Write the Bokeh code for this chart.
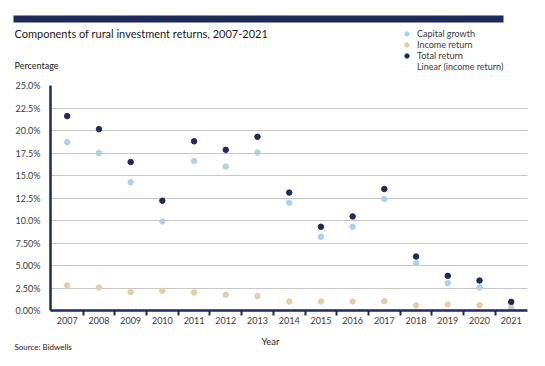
from bokeh.plotting import figure
from bokeh.layouts import column
from bokeh.models import (ColumnDataSource, Range1d, FixedTicker, Label, Legend, LegendItem,
                          BoxAnnotation)
from bokeh.embed import file_html
from bokeh.resources import INLINE

years = list(range(2007, 2022))
capital_growth = [18.7, 17.5, 14.25, 9.9, 16.6, 16.0, 17.55, 11.97, 8.2, 9.3, 12.4, 5.25, 3.04, 2.56, 0.22]
income_return = [2.78, 2.56, 2.04, 2.19, 2.0, 1.74, 1.6, 1.0, 1.0, 1.0, 1.04, 0.56, 0.67, 0.6, 0.7]
total_return = [21.6, 20.15, 16.5, 12.2, 18.8, 17.85, 19.3, 13.1, 9.3, 10.45, 13.5, 6.0, 3.85, 3.33, 0.96]
y_ticks = [0, 2.5, 5, 7.5, 10, 12.5, 15, 17.5, 20, 22.5, 25]
y_tick_labels = ["0.00%", "2.50%", "5.00%", "7.50%", "10.0%", "12.5%", "15.0%", "17.5%", "20.0%", "22.5%", "25.0%"]
series_names = ["Capital growth", "Income return", "Total return", "Linear (income return)"]

NAVY = "#1e2a5a"
BLUE = "#a9d3e8"
BEIGE = "#e3cfa6"
TXT = "#3a3a3a"
DARK = "#1a1a1a"
FONT = "Lato"
W = 545
HH = 78        # header height
FH = 34        # footer height
MH = 366 - HH - FH


def blank(h):
    f = figure(width=W, height=h, output_backend="svg", toolbar_location=None,
               x_range=Range1d(0, W), y_range=Range1d(h, 0),
               x_axis_location=None, y_axis_location=None,
               min_border_left=0, min_border_right=0, min_border_top=0, min_border_bottom=0)
    f.grid.visible = False
    f.outline_line_color = None
    f.frame_align = False
    return f


# ---------------- header (bar, title, legend) ----------------
hdr = blank(HH)
hdr.add_layout(BoxAnnotation(left=13, right=503, top=15, bottom=22, fill_color=NAVY, fill_alpha=1,
                             line_color=None))
hdr.add_layout(Label(x=14, y=33, text="Components of rural investment returns, 2007-2021",
                     text_font=FONT, text_font_size="11px", text_color=DARK, text_baseline="middle"))
hdr.add_layout(Label(x=14, y=65, text="Percentage",
                     text_font=FONT, text_font_size="9px", text_color=DARK, text_baseline="middle"))

nan = float("nan")
e = ColumnDataSource(dict(x=[nan], y=[nan]))
l_cap = hdr.scatter("x", "y", source=e, size=7, color=BLUE)
l_inc = hdr.scatter("x", "y", source=e, size=7, color=BEIGE)
l_tot = hdr.scatter("x", "y", source=e, size=7, color=NAVY)
l_lin = hdr.line("x", "y", source=e, line_color="#ececec", line_dash="1 2", line_width=1)
legend = Legend(items=[LegendItem(label=n, renderers=[r]) for n, r in
                       zip(series_names, [l_cap, l_inc, l_tot, l_lin])],
                location=(401, 6), orientation="vertical",
                label_text_font=FONT, label_text_font_size="9px", label_text_color=TXT,
                glyph_width=11, glyph_height=11, label_height=11, spacing=0, padding=0,
                margin=0, label_standoff=5, border_line_color=None, background_fill_alpha=0)
hdr.add_layout(legend)

# ---------------- main chart ----------------
src = ColumnDataSource(dict(year=years, cap=capital_growth, inc=income_return, tot=total_return))

p = figure(width=W, height=MH, output_backend="svg", toolbar_location=None,
           x_range=Range1d(2006.473, 2021.514), y_range=Range1d(0, 25),
           min_border_left=50, min_border_right=18, min_border_top=85 - HH,
           min_border_bottom=(366 - FH) - 310)
p.outline_line_color = None
p.frame_align = False

p.scatter("year", "cap", source=src, size=5.5, color=BLUE)
p.scatter("year", "inc", source=src, size=5.5, color=BEIGE)
p.scatter("year", "tot", source=src, size=5.5, color=NAVY)

p.xaxis.ticker = FixedTicker(ticks=years, minor_ticks=[y + 0.5 for y in years[:-1]])
p.xaxis.major_tick_line_color = None
p.xaxis.major_tick_out = 0
p.xaxis.major_tick_in = 0
p.xaxis.minor_tick_out = 5
p.xaxis.minor_tick_in = 0
p.xaxis.minor_tick_line_color = NAVY
p.xaxis.minor_tick_line_width = 2
p.xaxis.axis_line_color = NAVY
p.xaxis.axis_line_width = 2.5
p.xaxis.major_label_standoff = 1
p.xaxis.major_label_text_font = FONT
p.xaxis.major_label_text_font_size = "9px"
p.xaxis.major_label_text_color = TXT

p.yaxis.ticker = FixedTicker(ticks=y_ticks)
p.yaxis.major_label_overrides = {t: l for t, l in zip(y_ticks, y_tick_labels)}
p.yaxis.major_tick_line_color = None
p.yaxis.minor_tick_line_color = None
p.yaxis.major_tick_out = 0
p.yaxis.major_tick_in = 0
p.yaxis.major_label_standoff = 10
p.yaxis.axis_line_color = NAVY
p.yaxis.axis_line_width = 2.5
p.yaxis.major_label_text_font = FONT
p.yaxis.major_label_text_font_size = "9px"
p.yaxis.major_label_text_color = TXT

p.xgrid.grid_line_color = None
p.ygrid.grid_line_color = "#8c8c8c"
p.ygrid.grid_line_dash = "1 1"
p.ygrid.grid_line_width = 1

# ---------------- footer (axis title, source) ----------------
ftr = blank(FH)
ftr.add_layout(Label(x=270, y=341 - (366 - FH), text="Year", text_font=FONT, text_font_size="9.5px",
                     text_color=DARK, text_baseline="middle", text_align="center"))
ftr.add_layout(Label(x=14, y=346 - (366 - FH), text="Source: Bidwells", text_font=FONT,
                     text_font_size="8px", text_color=DARK, text_baseline="middle"))

layout = column(hdr, p, ftr, spacing=0)
open("out.html", "w").write(file_html(layout, INLINE))
